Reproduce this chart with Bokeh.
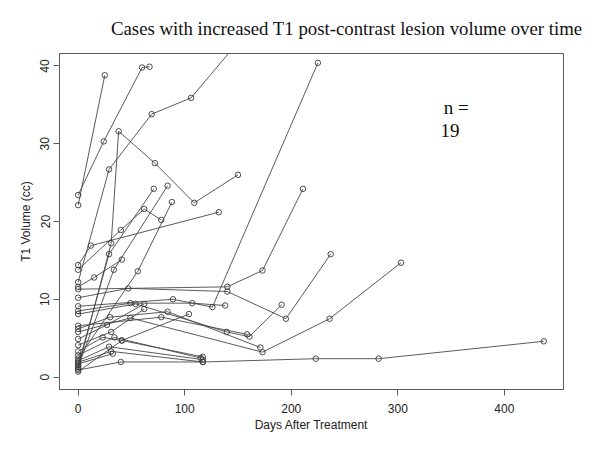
from bokeh.plotting import figure
from bokeh.models import Range1d, FixedTicker, Label
from bokeh.embed import file_html
from bokeh.resources import INLINE

# ---- data: days after treatment / T1 volume (cc) per lesion ----
s01_days = [0, 25];                      s01_vol = [22.1, 38.8]
s02_days = [0, 24, 60, 67];              s02_vol = [23.4, 30.3, 39.8, 39.9]
s03_days = [0, 29, 69, 106, 162];        s03_vol = [12.2, 26.7, 33.8, 35.9, 45.0]
s04_days = [0, 31, 38, 72, 109, 150];    s04_vol = [1.1, 17.2, 31.6, 27.5, 22.4, 26.0]
s05_days = [0, 12, 132];                 s05_vol = [14.4, 16.9, 21.2]
s06_days = [0, 40, 62, 78];              s06_vol = [13.8, 18.9, 21.6, 20.2]
s07_days = [0, 56, 88];                  s07_vol = [2.4, 13.6, 22.5]
s08_days = [0, 29, 71];                  s08_vol = [1.5, 15.8, 24.2]
s09_days = [0, 33.5, 84];                s09_vol = [1.3, 13.8, 24.6]
s10_days = [0, 15, 41];                  s10_vol = [11.6, 12.8, 15.1]
s11_days = [0, 47, 140, 195, 237];       s11_vol = [10.2, 11.4, 11.0, 7.5, 15.8]
s12_days = [0, 89, 126, 225];            s12_vol = [9.1, 10.0, 9.0, 40.4]
s13_days = [0, 140, 173, 211];           s13_vol = [11.3, 11.6, 13.7, 24.2]
s14_days = [0, 49, 107, 138];            s14_vol = [8.5, 9.5, 9.5, 9.2]
s15_days = [0, 54, 139.5, 160.7, 191];   s15_vol = [8.1, 9.4, 5.8, 5.2, 9.3]
s16_days = [0, 78, 158.5];               s16_vol = [6.6, 7.7, 5.5]
s17_days = [0, 30, 84, 171];             s17_vol = [6.2, 7.7, 8.4, 3.8]
s18_days = [0, 49, 173, 236, 303];       s18_vol = [5.8, 7.6, 3.2, 7.5, 14.7]
s19_days = [0, 27, 62];                  s19_vol = [4.9, 6.7, 9.4]
s20_days = [0, 31, 62];                  s20_vol = [4.1, 5.8, 8.75]
s21_days = [0, 23, 41, 117];             s21_vol = [3.3, 5.1, 4.7, 2.6]
s22_days = [0, 34, 115];                 s22_vol = [2.8, 5.1, 2.45]
s23_days = [0, 29, 117];                 s23_vol = [2.1, 3.9, 2.24]
s24_days = [0, 31, 117];                 s24_vol = [1.9, 3.3, 1.94]
s25_days = [0, 32.5];                    s25_vol = [1.7, 3.0]
s26_days = [0, 40, 117, 223, 282, 437];  s26_vol = [0.9, 1.94, 1.94, 2.36, 2.36, 4.6]
s27_days = [0, 41, 104];                 s27_vol = [0.7, 4.7, 8.1]

x_ticks = [0, 100, 200, 300, 400]
y_ticks = [0, 10, 20, 30, 40]
x_limits = (-17.5, 455.5)
y_limits = (-1.6, 41.6)

title_text = "Cases with increased T1 post-contrast lesion volume over time"
n_label = "n ="
n_value = "19"

series = [
    (s01_days, s01_vol), (s02_days, s02_vol), (s03_days, s03_vol), (s04_days, s04_vol),
    (s05_days, s05_vol), (s06_days, s06_vol), (s07_days, s07_vol), (s08_days, s08_vol),
    (s09_days, s09_vol), (s10_days, s10_vol), (s11_days, s11_vol), (s12_days, s12_vol),
    (s13_days, s13_vol), (s14_days, s14_vol), (s15_days, s15_vol), (s16_days, s16_vol),
    (s17_days, s17_vol), (s18_days, s18_vol), (s19_days, s19_vol), (s20_days, s20_vol),
    (s21_days, s21_vol), (s22_days, s22_vol), (s23_days, s23_vol), (s24_days, s24_vol),
    (s25_days, s25_vol), (s26_days, s26_vol), (s27_days, s27_vol),
]

p = figure(width=588, height=434, output_backend="svg", toolbar_location=None,
           x_range=Range1d(*x_limits), y_range=Range1d(*y_limits),
           min_border_left=59, min_border_right=25, min_border_top=53, min_border_bottom=43)

p.xgrid.visible = False
p.ygrid.visible = False
p.background_fill_color = "white"
p.border_fill_color = "white"
p.outline_line_color = "#5a5a5a"
p.outline_line_width = 1

line_col = "#474747"
for d, v in series:
    p.line(d, v, line_color=line_col, line_width=0.9)
for d, v in series:
    p.scatter(d, v, marker="circle", size=5.5, line_color="#3a3a3a", line_width=0.9,
              fill_color=None)

p.title.text = title_text
p.title.text_font = "Liberation Serif"
p.title.text_font_size = "18.8px"
p.title.text_font_style = "normal"
p.title.text_color = "#111111"
p.title.align = "right"
p.title.offset = -19
p.title.standoff = 30

for ax in (p.xaxis, p.yaxis):
    ax.axis_line_color = "#5a5a5a"
    ax.major_tick_line_color = "#5a5a5a"
    ax.minor_tick_line_color = None
    ax.major_tick_in = 0
    ax.major_tick_out = 6
    ax.major_label_text_font = "Liberation Sans"
    ax.major_label_text_font_size = "12px"
    ax.major_label_text_color = "#222222"
    ax.axis_label_text_font = "Liberation Sans"
    ax.axis_label_text_font_size = "12px"
    ax.axis_label_text_font_style = "normal"
    ax.axis_label_text_color = "#222222"

p.xaxis.ticker = FixedTicker(ticks=x_ticks)
p.yaxis.ticker = FixedTicker(ticks=y_ticks)
p.yaxis.major_label_orientation = "vertical"
p.xaxis.axis_label = "Days After Treatment"
p.yaxis.axis_label = "T1 Volume (cc)"
p.xaxis.major_label_standoff = 8
p.xaxis.axis_label_standoff = 2
p.yaxis.major_label_standoff = 4
p.yaxis.axis_label_standoff = 5

p.add_layout(Label(x=343, y=34.7, text=n_label, text_font="Liberation Serif",
                   text_font_size="19px", text_baseline="middle", text_align="left",
                   text_color="#111111"))
p.add_layout(Label(x=340, y=31.7, text=n_value, text_font="Liberation Serif",
                   text_font_size="19px", text_baseline="middle", text_align="left",
                   text_color="#111111"))

open("out.html", "w").write(file_html(p, INLINE))
